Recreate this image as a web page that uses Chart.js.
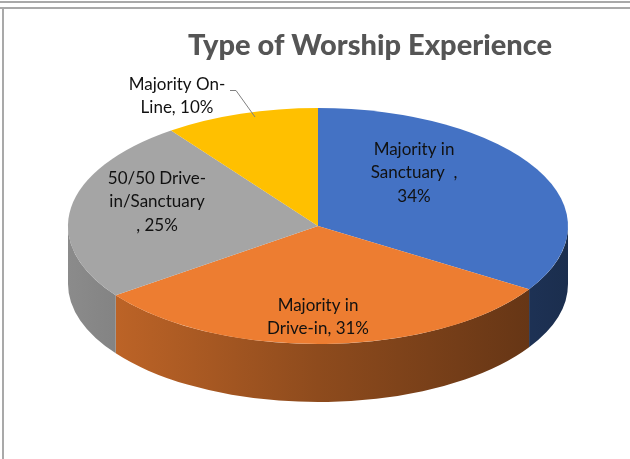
<!DOCTYPE html>
<html>
<head>
<meta charset="utf-8">
<script src="https://cdn.jsdelivr.net/npm/chart.js@4"></script>
<style>
  html, body { margin: 0; padding: 0; background: #fff; }
  #wrap { width: 630px; height: 459px; }
</style>
</head>
<body>
<div id="wrap"><canvas id="pie" width="630" height="459"></canvas></div>
<script>
// slices, clockwise from 12 o'clock
const categories = ['Majority in Sanctuary', 'Majority in Drive-in', '50/50 Drive-in/Sanctuary', 'Majority On-Line'];
const shares = [34, 31, 25, 10];
const sliceColors = ['#4472C4', '#ED7D31', '#A5A5A5', '#FFC000'];

// how each data label wraps, {v} is the share
const labelWraps = [
    ['Majority in', 'Sanctuary  ,', '{v}%'],
    ['Majority in', 'Drive-in, {v}%'],
    ['50/50 Drive-', 'in/Sanctuary', ', {v}%'],
    ['Majority On-', 'Line, {v}%']
];

// tilted pie geometry
const PIE = { cx: 318, cy: 226, rx: 250, ry: 118, depth: 58 };
// label centres, relative to the pie centre
const labelOffsets = [[96, -53], [0, 91], [-161, -24], [-141, -130]];
const LABEL_FONT = '17px Lato, "Open Sans", sans-serif';
const LINE_H = 23.5;

function shade(hex, f) {
    const n = parseInt(hex.slice(1), 16);
    const r = Math.round(((n >> 16) & 255) * f);
    const g = Math.round(((n >> 8) & 255) * f);
    const b = Math.round((n & 255) * f);
    return `rgb(${r},${g},${b})`;
}

const tiltPlugin = {
    id: 'tilt',
    beforeDraw(chart) {
        const ctx = chart.ctx;
        ctx.save();
        ctx.fillStyle = '#fff';
        ctx.fillRect(0, 0, chart.width, chart.height);
        // window frame lines
        ctx.fillStyle = '#a9a9a9';
        ctx.fillRect(0, 1, chart.width, 2);
        ctx.fillRect(0, 7, chart.width, 2);
        ctx.fillRect(2, 8, 2, chart.height - 8);
        ctx.restore();
    },
    beforeDatasetsDraw(chart) {
        const ctx = chart.ctx;
        const meta = chart.getDatasetMeta(0);
        const ref = meta.data[0];

        // side walls: only the front half of the rim shows
        ctx.save();
        meta.data.forEach((arc, i) => {
            const s = Math.max(arc.startAngle, 0);
            const e = Math.min(arc.endAngle, Math.PI);
            if (e <= s) return;
            const grad = ctx.createLinearGradient(PIE.cx - PIE.rx, 0, PIE.cx + PIE.rx, 0);
            grad.addColorStop(0, shade(sliceColors[i], 0.84));
            grad.addColorStop(0.5, shade(sliceColors[i], 0.6));
            grad.addColorStop(1, shade(sliceColors[i], 0.4));
            ctx.beginPath();
            ctx.ellipse(PIE.cx, PIE.cy, PIE.rx, PIE.ry, 0, s, e, false);
            ctx.ellipse(PIE.cx, PIE.cy + PIE.depth, PIE.rx, PIE.ry, 0, e, s, true);
            ctx.closePath();
            ctx.fillStyle = grad;
            ctx.fill();
        });
        ctx.restore();

        // squash the flat pie into the tilted top face
        ctx.save();
        ctx.translate(PIE.cx, PIE.cy);
        ctx.scale(PIE.rx / ref.outerRadius, PIE.ry / ref.outerRadius);
        ctx.translate(-ref.x, -ref.y);
    },
    afterDatasetsDraw(chart) {
        chart.ctx.restore();
    },
    afterDraw(chart) {
        const ctx = chart.ctx;
        ctx.save();
        ctx.font = LABEL_FONT;
        ctx.fillStyle = '#111';
        ctx.textAlign = 'center';
        ctx.textBaseline = 'middle';
        labelWraps.forEach((lines, i) => {
            const x = PIE.cx + labelOffsets[i][0];
            const y0 = PIE.cy + labelOffsets[i][1] - (lines.length - 1) * LINE_H / 2;
            lines.forEach((ln, j) => {
                ctx.fillText(ln.replace('{v}', shares[i]), x, y0 + j * LINE_H);
            });
        });

        // leader line for the small outside label
        ctx.strokeStyle = '#808080';
        ctx.lineWidth = 1;
        ctx.beginPath();
        ctx.moveTo(230, 90.5);
        ctx.lineTo(236, 90.5);
        ctx.lineTo(255, 117);
        ctx.stroke();
        ctx.restore();
    }
};

new Chart(document.getElementById('pie'), {
    type: 'pie',
    data: {
        labels: categories,
        datasets: [{
            data: shares,
            backgroundColor: sliceColors,
            borderWidth: 0,
            clip: false
        }]
    },
    options: {
        responsive: false,
        devicePixelRatio: 1,
        animation: false,
        events: [],
        layout: { padding: { top: 10, left: 110, right: 0, bottom: 10 } },
        plugins: {
            legend: { display: false },
            tooltip: { enabled: false },
            title: {
                display: true,
                text: 'Type of Worship Experience',
                color: '#555555',
                font: { family: 'Lato, "Open Sans", sans-serif', size: 29, weight: 900 },
                padding: { top: 18, bottom: 10 }
            }
        }
    },
    plugins: [tiltPlugin]
});
</script>
</body>
</html>
